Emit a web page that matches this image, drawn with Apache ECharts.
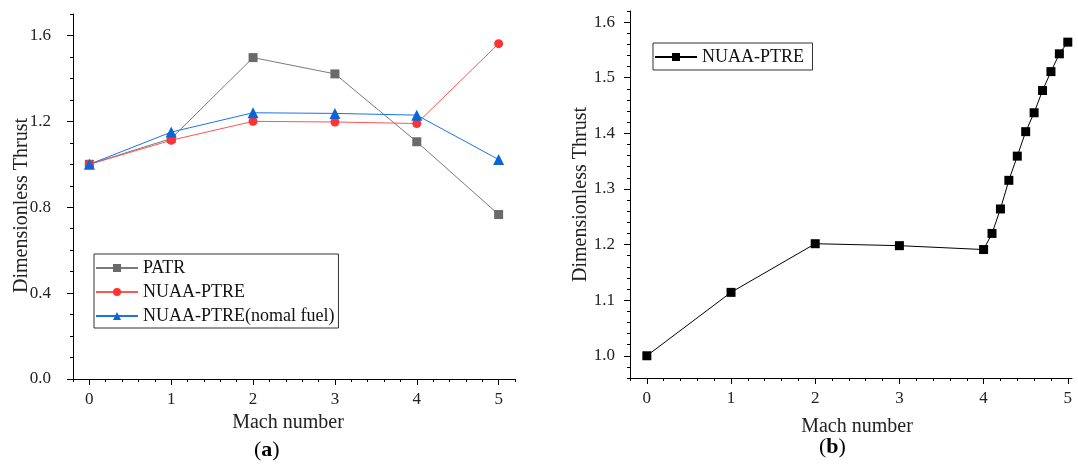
<!DOCTYPE html>
<html>
<head>
<meta charset="utf-8">
<script src="https://cdn.jsdelivr.net/npm/echarts@6/dist/echarts.min.js"></script>
<style>
html,body{margin:0;padding:0;background:#fff;}
#chart{width:1078px;height:473px;}
</style>
</head>
<body>
<div id="chart"></div>
<script>
// ---- Data ----
const machLeft = [0, 1, 2, 3, 4, 5];
const patr = [1.0, 1.12, 1.497, 1.421, 1.105, 0.766];
const nuaaPtre = [1.0, 1.112, 1.2, 1.197, 1.19, 1.562];
const nuaaPtreNormal = [1.0, 1.15, 1.24, 1.237, 1.229, 1.022];

const machRight = [0, 1, 2, 3, 4, 4.1, 4.2, 4.3, 4.4, 4.5, 4.6, 4.7, 4.8, 4.9, 5.0];
const thrustRight = [1.0, 1.114, 1.2015, 1.198, 1.191, 1.220, 1.264, 1.3155, 1.359, 1.403, 1.437, 1.477, 1.511, 1.543, 1.564];

const xMajorTicks = [0, 1, 2, 3, 4, 5];
const yLeftMajorTicks = [0.0, 0.4, 0.8, 1.2, 1.6];
const yRightMajorTicks = [1.0, 1.1, 1.2, 1.3, 1.4, 1.5, 1.6];

const seriesNames = ['PATR', 'NUAA-PTRE', 'NUAA-PTRE(nomal fuel)'];
const xTitle = 'Mach number';
const yTitle = 'Dimensionless Thrust';

function steps(a, b, s) {
  const out = [];
  const n = Math.round((b - a) / s);
  for (let i = 0; i <= n; i++) out.push(+(a + i * s).toFixed(4));
  return out;
}
const xLeftMinor = steps(-0.2, 5.2, 0.2);
const xRightMinor = steps(-0.2, 5.0, 0.2);
const yLeftMinor = steps(0, 1.7, 0.1);
const yRightMinor = steps(0.96, 1.62, 0.02);

const pair = (xs, ys) => xs.map((x, i) => [x, ys[i]]);

const FONT = '"Liberation Serif", "Times New Roman", serif';
const axisLine = { show: true, onZero: false, lineStyle: { color: '#000', width: 1 } };
const labelStyle = { fontFamily: FONT, fontSize: 17, color: '#222' };

function mainX(grid, min, max, nameGap, namePad) {
  return {
    type: 'value', gridIndex: grid, min: min, max: max, position: 'bottom',
    axisLine: axisLine,
    axisTick: { show: true, inside: false, length: 6, customValues: xMajorTicks, lineStyle: { color: '#000' } },
    axisLabel: Object.assign({ customValues: xMajorTicks, margin: 12, formatter: v => String(v) }, labelStyle),
    splitLine: { show: false },
    name: xTitle, nameLocation: 'middle', nameGap: nameGap, nameMoveOverlap: false,
    nameTextStyle: { fontFamily: FONT, fontSize: 20, color: '#222', padding: namePad }
  };
}
function minorX(grid, min, max, vals) {
  return {
    type: 'value', gridIndex: grid, min: min, max: max, position: 'bottom',
    axisLine: { show: false, onZero: false },
    axisTick: { show: true, inside: false, length: 3, customValues: vals, lineStyle: { color: '#000' } },
    axisLabel: { show: false }, splitLine: { show: false }
  };
}
function mainY(grid, min, max, ticks, margin, nameGap, namePad) {
  return {
    type: 'value', gridIndex: grid, min: min, max: max, position: 'left',
    axisLine: axisLine,
    axisTick: { show: true, inside: false, length: 6, customValues: ticks, lineStyle: { color: '#000' } },
    axisLabel: Object.assign({ customValues: ticks, margin: margin, formatter: v => v.toFixed(1) }, labelStyle),
    splitLine: { show: false },
    name: yTitle, nameLocation: 'middle', nameGap: nameGap, nameRotate: 90, nameMoveOverlap: false,
    nameTextStyle: { fontFamily: FONT, fontSize: 20, color: '#222', padding: namePad }
  };
}
function minorY(grid, min, max, vals) {
  return {
    type: 'value', gridIndex: grid, min: min, max: max, position: 'left',
    axisLine: { show: false, onZero: false },
    axisTick: { show: true, inside: false, length: 3, customValues: vals, lineStyle: { color: '#000' } },
    axisLabel: { show: false }, splitLine: { show: false }
  };
}

const chart = echarts.init(document.getElementById('chart'), null, { renderer: 'canvas' });
chart.setOption({
  animation: false,
  backgroundColor: '#fff',
  grid: [
    { left: 73, top: 14, right: 563, bottom: 94, containLabel: false },
    { left: 630, top: 11, right: 6, bottom: 95, containLabel: false }
  ],
  xAxis: [
    mainX(0, -0.2, 5.2, 34, [0, 12, 0, 0]),
    minorX(0, -0.2, 5.2, xLeftMinor),
    mainX(1, -0.2, 5.05, 39, [0, 0, 0, 12]),
    minorX(1, -0.2, 5.05, xRightMinor)
  ],
  yAxis: [
    mainY(0, 0, 1.7, yLeftMajorTicks, 22, 41, [0, 18, 0, 0]),
    minorY(0, 0, 1.7, yLeftMinor),
    mainY(1, 0.96, 1.62, yRightMajorTicks, 15, 39, [0, 0, 0, 0]),
    minorY(1, 0.96, 1.62, yRightMinor)
  ],
  legend: [
    {
      data: [seriesNames[0], seriesNames[1], seriesNames[2]],
      orient: 'vertical', left: 94, top: 254,
      borderColor: '#333', borderWidth: 1, padding: [5, 4, 3, 1],
      itemWidth: 42, itemHeight: 10, itemGap: 6,
      textStyle: { fontFamily: FONT, fontSize: 18, color: '#111' }
    },
    {
      data: ['NUAA-PTRE '],
      orient: 'vertical', left: 653, top: 43,
      borderColor: '#333', borderWidth: 1, padding: [5, 4, 4, 1],
      itemWidth: 42, itemHeight: 10,
      textStyle: { fontFamily: FONT, fontSize: 18, color: '#111' }
    }
  ],
  graphic: [
    {
      type: 'text', left: 254, top: 439,
      style: {
        text: '{p|(}{b|a}{p|)}',
        rich: {
          p: { fontFamily: FONT, fontSize: 22, fill: '#000' },
          b: { fontFamily: FONT, fontSize: 22, fontWeight: 'bold', fill: '#000' }
        }
      }
    },
    {
      type: 'text', left: 819, top: 436,
      style: {
        text: '{p|(}{b|b}{p|)}',
        rich: {
          p: { fontFamily: FONT, fontSize: 22, fill: '#000' },
          b: { fontFamily: FONT, fontSize: 22, fontWeight: 'bold', fill: '#000' }
        }
      }
    }
  ],
  series: [
    {
      name: seriesNames[0], type: 'line', xAxisIndex: 0, yAxisIndex: 0,
      data: pair(machLeft, patr), symbol: 'rect', symbolSize: 9,
      lineStyle: { color: '#7a7a7a', width: 1 }, itemStyle: { color: '#6a6a6a' }
    },
    {
      name: seriesNames[1], type: 'line', xAxisIndex: 0, yAxisIndex: 0,
      data: pair(machLeft, nuaaPtre), symbol: 'circle', symbolSize: 9,
      lineStyle: { color: '#ff5555', width: 1 }, itemStyle: { color: '#ff3333' }
    },
    {
      name: seriesNames[2], type: 'line', xAxisIndex: 0, yAxisIndex: 0,
      data: pair(machLeft, nuaaPtreNormal), symbol: 'triangle', symbolSize: 11,
      lineStyle: { color: '#1a73e8', width: 1 }, itemStyle: { color: '#0a66d8' }
    },
    {
      name: 'NUAA-PTRE ', type: 'line', xAxisIndex: 2, yAxisIndex: 2,
      data: pair(machRight, thrustRight), symbol: 'rect', symbolSize: 9,
      lineStyle: { color: '#000', width: 1 }, itemStyle: { color: '#000' }
    }
  ]
});
</script>
</body>
</html>
